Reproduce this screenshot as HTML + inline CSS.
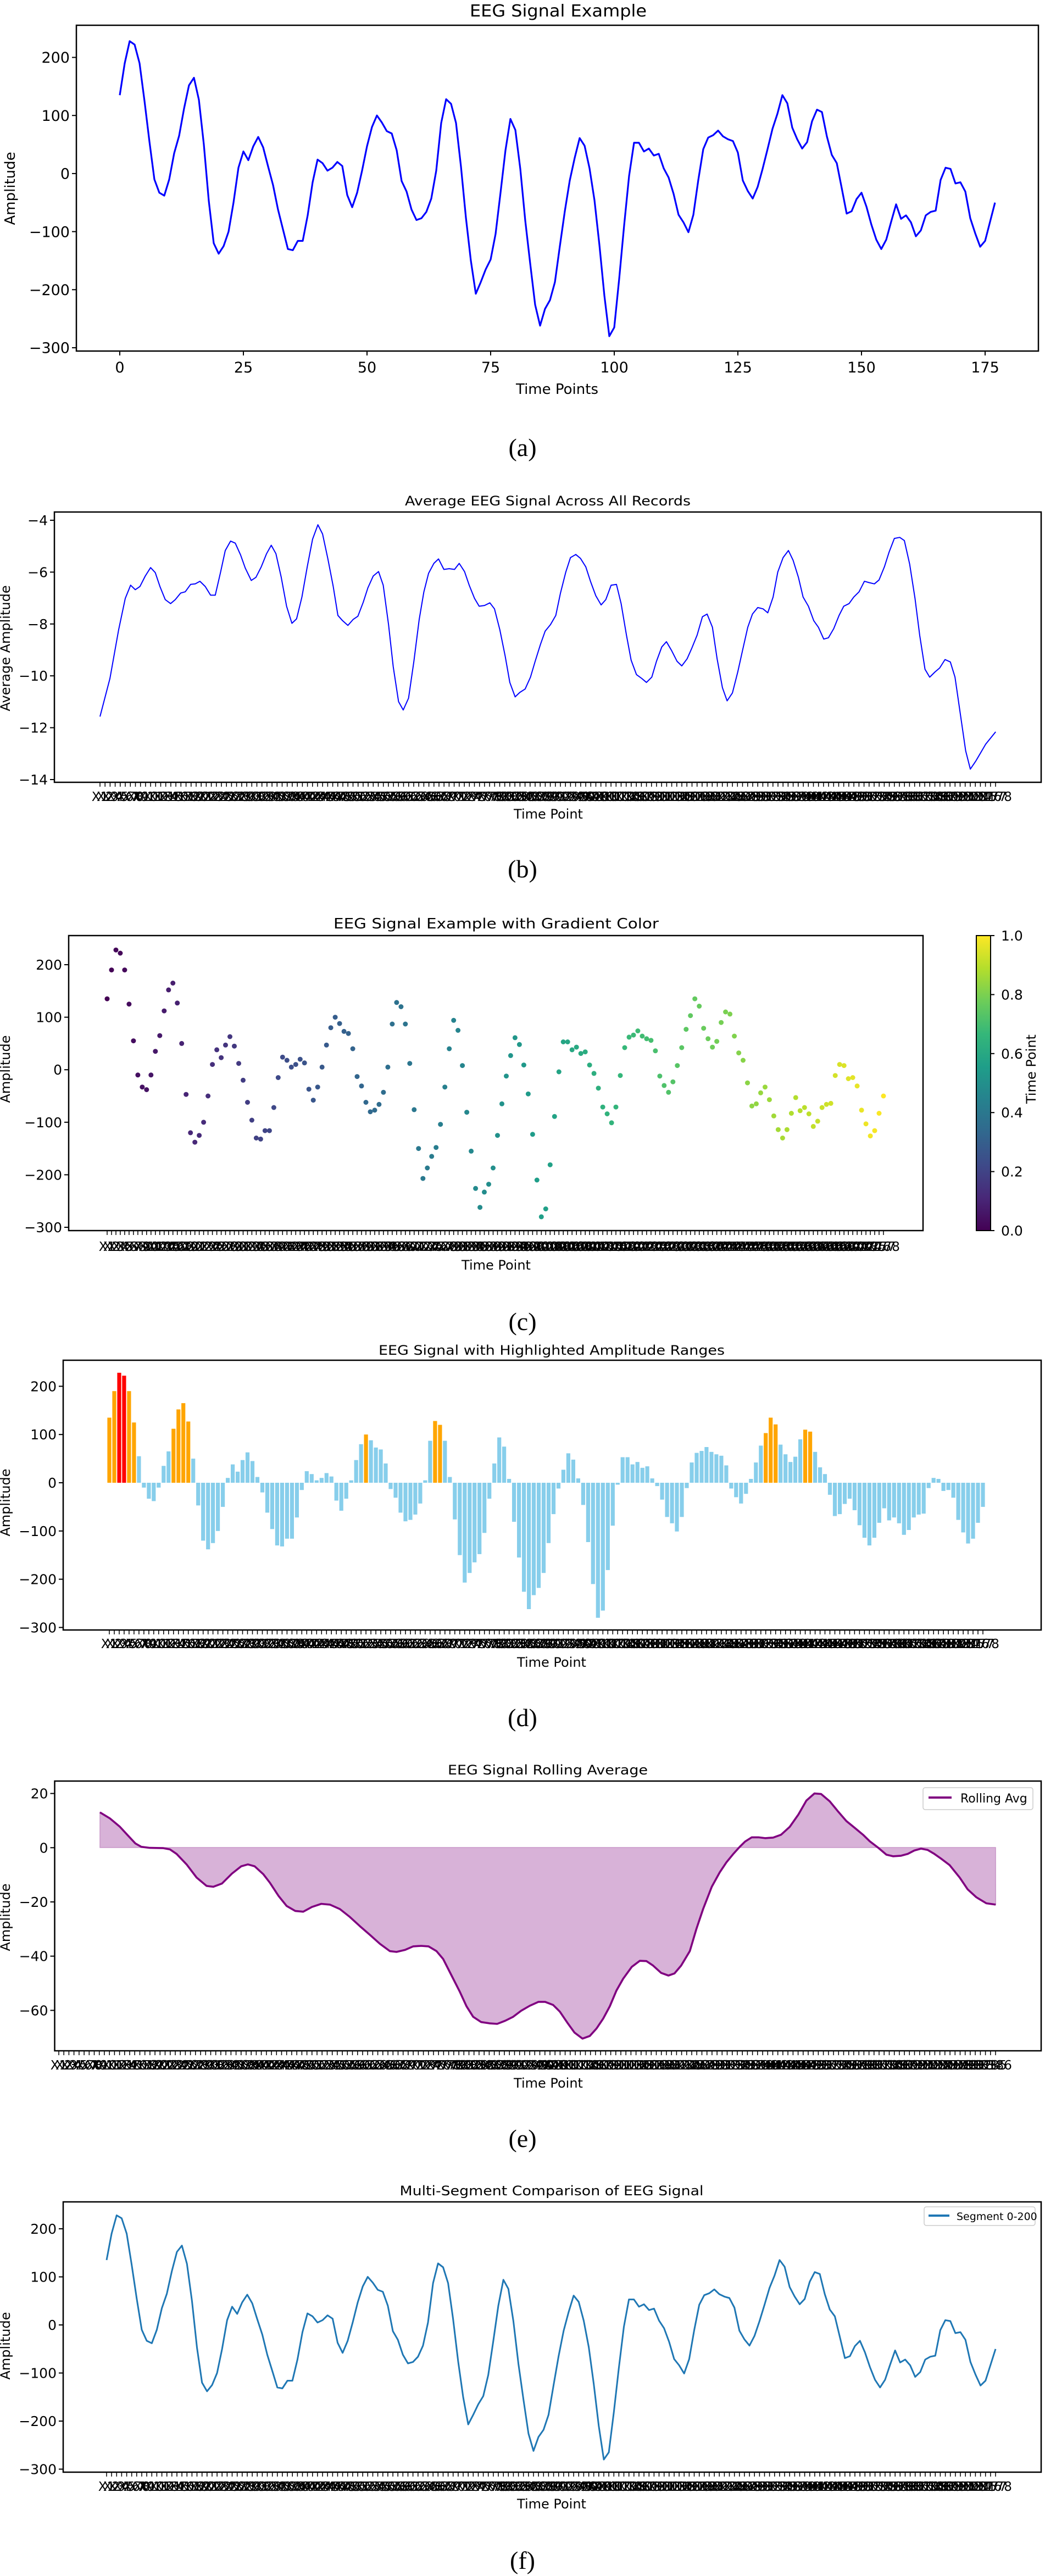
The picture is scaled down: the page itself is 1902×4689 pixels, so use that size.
<!DOCTYPE html>
<html><head><meta charset="utf-8">
<style>
html,body{margin:0;padding:0;background:#fff;}
svg{display:block;}
text{font-family:"DejaVu Sans","Liberation Sans",sans-serif;fill:#000;}
.lab{font-family:"Liberation Serif",serif;font-size:46px;}
</style></head>
<body>
<svg id="s" xmlns="http://www.w3.org/2000/svg" width="1902" height="4689" viewBox="0 0 1902 4689">
<rect width="1902" height="4689" fill="#fff"/>
<text class="lab" x="951" y="830" text-anchor="middle">(a)</text>
<text class="lab" x="951" y="1597" text-anchor="middle">(b)</text>
<text class="lab" x="951" y="2421" text-anchor="middle">(c)</text>
<text class="lab" x="951" y="3142" text-anchor="middle">(d)</text>
<text class="lab" x="951" y="3908" text-anchor="middle">(e)</text>
<text class="lab" x="951" y="4676" text-anchor="middle">(f)</text>
</svg>
<script>
var S=document.getElementById('s');var NS='http://www.w3.org/2000/svg';
function el(t,a,txt){var e=document.createElementNS(NS,t);for(var k in a)e.setAttribute(k,a[k]);if(txt!==undefined)e.textContent=txt;S.appendChild(e);return e;}
var D=[135,190,228,222,190,125,55,-10,-33,-38,-10,35,65,112,152,165,127,50,-47,-120,-138,-125,-100,-50,10,38,23,47,63,45,12,-20,-62,-96,-130,-132,-116,-116,-72,-15,24,18,5,10,20,13,-37,-58,-33,5,47,80,100,88,73,69,40,-13,-31,-62,-80,-77,-66,-43,5,87,128,120,87,12,-76,-150,-207,-187,-165,-148,-104,-33,40,94,75,8,-81,-155,-226,-262,-233,-218,-187,-125,-65,-12,27,61,48,9,-46,-123,-210,-280,-265,-181,-89,-4,53,53,38,43,31,34,9,-7,-35,-71,-84,-101,-71,-11,42,62,66,74,64,59,56,36,-12,-30,-43,-23,8,42,77,103,135,121,79,59,43,54,90,110,106,64,32,18,-25,-69,-65,-44,-33,-57,-88,-114,-130,-114,-83,-53,-78,-72,-84,-108,-98,-72,-66,-64,-11,10,8,-17,-15,-31,-77,-103,-126,-116,-83,-50];
function frame(l,t,r,b){el('rect',{x:l,y:t,width:r-l,height:b-t,fill:'none',stroke:'#000','stroke-width':2.5});}
function title(txt,cx,y,w,fs){el('text',{x:cx,y:y,'text-anchor':'middle','font-size':fs,textLength:w,lengthAdjust:'spacingAndGlyphs'},txt);}
function ytick(l,y,txt,fs){el('line',{x1:l-8,y1:y,x2:l,y2:y,stroke:'#000','stroke-width':2});el('text',{x:l-12,y:y+fs*0.36,'text-anchor':'end','font-size':fs},txt);}
function ylabel(txt,x,cy,fs){el('text',{x:x,y:cy,'text-anchor':'middle','font-size':fs,transform:'rotate(-90 '+x+' '+cy+')'},txt);}
function xlabel(txt,cx,y,fs){el('text',{x:cx,y:y,'text-anchor':'middle','font-size':fs},txt);}
function cat(x0,dx,n,b,ly){var p='';for(var i=0;i<n;i++){var x=x0+i*dx;p+='M'+x.toFixed(1)+' '+b+'v8';el('text',{x:x.toFixed(1),y:ly,'text-anchor':'middle','font-size':23},'X'+(i+1));}el('path',{d:p,stroke:'#000','stroke-width':1.5,fill:'none'});}
function yv(v){return v<0?'\u2212'+(-v):''+v;}
// Panel a
title('EEG Signal Example',1016,30,322,30);
frame(139,46,1890,639);
[200,100,0,-100,-200,-300].forEach(function(v){ytick(139,315.9-v*1.057,yv(v),27);});
[0,25,50,75,100,125,150,175].forEach(function(v){var x=218+v*9;el('line',{x1:x,y1:639,x2:x,y2:647,stroke:'#000','stroke-width':2});el('text',{x:x,y:678,'text-anchor':'middle','font-size':27},''+v);});
ylabel('Amplitude',27,343,26);xlabel('Time Points',1014,717,26);
el('polyline',{points:D.map(function(v,i){return (218+i*9).toFixed(1)+','+(315.9-v*1.057).toFixed(1);}).join(' '),fill:'none',stroke:'#0000ff','stroke-width':3.2,'stroke-linejoin':'round'});
// Panel b
var B=[[150,950],[165,805],[178,620],[188,500],[196,450],[203,467],[210,455],[218,415],[226,383],[233,402],[240,455],[248,505],[256,520],[263,505],[271,480],[278,475],[286,447],[293,445],[300,435],[308,455],[316,488],[323,488],[331,400],[338,318],[346,282],[353,290],[361,335],[368,385],[377,432],[384,420],[392,380],[400,330],[407,298],[414,330],[422,420],[430,530],[438,595],[445,578],[453,495],[461,380],[469,275],[477,220],[484,255],[492,350],[500,455],[507,565],[514,585],[522,603],[530,580],[537,568],[545,515],[552,460],[560,415],[568,398],[575,450],[583,600],[590,760],[598,893],[605,925],[613,880],[621,740],[629,580],[636,475],[643,405],[651,367],[658,350],[666,390],[674,387],[682,390],[689,367],[697,398],[704,450],[712,500],[719,530],[727,527],[735,517],[742,540],[750,620],[758,720],[765,820],[773,875],[780,858],[788,845],[796,800],[803,740],[811,675],[818,625],[826,600],[834,565],[841,480],[849,400],[856,345],[864,333],[871,348],[879,380],[886,435],[894,490],[902,525],[909,505],[917,450],[925,447],[932,520],[940,640],[947,735],[955,790],[963,805],[970,820],[978,800],[985,740],[993,685],[1000,665],[1008,700],[1016,740],[1023,757],[1031,730],[1038,690],[1046,640],[1054,570],[1061,560],[1069,610],[1076,730],[1084,840],[1091,890],[1099,860],[1107,780],[1114,700],[1122,610],[1129,560],[1137,535],[1145,540],[1152,555],[1160,495],[1167,400],[1175,345],[1183,318],[1190,355],[1198,420],[1205,495],[1213,530],[1221,585],[1228,610],[1236,655],[1243,650],[1251,615],[1259,565],[1266,530],[1274,520],[1281,495],[1289,475],[1297,435],[1304,440],[1312,445],[1319,430],[1327,380],[1334,325],[1342,272],[1350,268],[1357,280],[1365,370],[1373,500],[1380,640],[1388,770],[1395,800],[1403,780],[1410,765],[1418,733],[1426,742],[1433,800],[1441,940],[1449,1080],[1456,1150],[1464,1120],[1471,1090],[1479,1055],[1487,1030],[1494,1008]];
title('Average EEG Signal Across All Records',997,920,520,24);
frame(99,932,1895,1424);
[-4,-6,-8,-10,-12,-14].forEach(function(v,j){ytick(99,947+j*94.4,yv(v),25);});
cat(182,1630/177,178,1424,1458);
ylabel('Average Amplitude',18,1180,24);xlabel('Time Point',998,1490,24);
el('polyline',{points:B.map(function(p){return (p[0]*1.213).toFixed(1)+','+(850+p[1]*0.4783).toFixed(1);}).join(' '),fill:'none',stroke:'#0000ff','stroke-width':2,'stroke-linejoin':'round'});
// Panel c
title('EEG Signal Example with Gradient Color',903,1690,592,26);
frame(125,1703,1680,2240);
[200,100,0,-100,-200,-300].forEach(function(v){ytick(125,1947.2-v*0.956,yv(v),25);});
cat(195,1413/177,178,2240,2277);
ylabel('Amplitude',18,1946,24);xlabel('Time Point',903,2311,24);
var VS=[[68,1,84],[72,40,120],[62,74,137],[49,104,142],[38,130,142],[31,158,137],[53,183,121],[109,205,89],[180,222,44],[253,231,37]];
function vir(t){var f=t*9,i=Math.min(8,Math.floor(f)),r=f-i,a=VS[i],b=VS[i+1];return 'rgb('+[0,1,2].map(function(k){return Math.round(a[k]+(b[k]-a[k])*r);}).join(',')+')';}
D.forEach(function(v,i){el('circle',{cx:(195+i*1413/177).toFixed(1),cy:(1947.2-v*0.956).toFixed(1),r:4.5,fill:vir(i/177)});});
var g=el('linearGradient',{id:'vg',x1:0,y1:1,x2:0,y2:0});
for(var k=0;k<=9;k++){var st=document.createElementNS(NS,'stop');st.setAttribute('offset',k/9);st.setAttribute('stop-color','rgb('+VS[k].join(',')+')');g.appendChild(st);}
el('rect',{x:1777,y:1703,width:26,height:537,fill:'url(#vg)',stroke:'#000','stroke-width':2});
[0,0.2,0.4,0.6,0.8,1].forEach(function(v){var y=2240-v*537;el('line',{x1:1803,y1:y,x2:1810,y2:y,stroke:'#000','stroke-width':2});el('text',{x:1822,y:y+9,'font-size':25},v.toFixed(1));});
ylabel('Time Point',1885,1946,24);
// Panel d
title('EEG Signal with Highlighted Amplitude Ranges',1004,2466,630,24);
frame(115,2476,1895,2967);
[200,100,0,-100,-200,-300].forEach(function(v){ytick(115,2699-v*0.878,yv(v),25);});
D.forEach(function(v,i){var x=199+i*8.983,h=v*0.878;var c=v>200?'#ff0000':(v>=100?'#ffa500':'#87ceeb');el('rect',{x:(x-3.6).toFixed(1),y:(v>0?2699-h:2699).toFixed(1),width:7.2,height:Math.max(Math.abs(h),0.5).toFixed(1),fill:c});});
cat(199,8.983,178,2967,3000);
ylabel('Amplitude',18,2735,24);xlabel('Time Point',1004,3034,24);
// Panel e
var E=[[150,207],[165,230],[180,262],[192,295],[203,325],[212,338],[225,342],[245,343],[255,348],[265,365],[280,405],[295,455],[310,487],[320,490],[333,478],[348,440],[362,412],[372,405],[382,412],[395,442],[405,475],[418,525],[430,563],[443,582],[455,585],[468,567],[482,555],[495,558],[510,575],[525,605],[540,640],[555,673],[570,707],[585,735],[595,738],[608,730],[620,717],[632,715],[643,717],[655,735],[665,765],[678,830],[690,890],[700,945],[710,985],[722,1005],[735,1010],[746,1012],[758,1000],[770,985],[782,962],[795,943],[808,928],[818,928],[830,940],[840,965],[852,1010],[862,1045],[874,1068],[885,1058],[895,1030],[905,992],[915,945],[925,885],[935,840],[948,795],[960,772],[970,773],[980,790],[992,818],[1003,828],[1012,820],[1022,790],[1035,735],[1045,650],[1055,575],[1068,490],[1080,435],[1090,397],[1100,366],[1110,338],[1118,318],[1128,302],[1138,302],[1148,305],[1160,303],[1172,292],[1185,262],[1198,215],[1210,162],[1222,135],[1232,137],[1245,165],[1258,205],[1270,240],[1282,265],[1295,292],[1305,317],[1318,342],[1330,368],[1340,374],[1352,372],[1362,365],[1372,352],[1382,345],[1392,350],[1402,365],[1412,383],[1425,408],[1440,455],[1452,500],[1465,530],[1480,553],[1494,558]];
title('EEG Signal Rolling Average',997,3230,364,24);
frame(99.5,3242,1895,3733);
[20,0,-20,-40,-60].forEach(function(v,j){ytick(99.5,3264.6+j*98.7,yv(v),25);});
var ep=E.map(function(p){return (p[0]*1.213).toFixed(1)+','+(3200+p[1]*0.4783).toFixed(1);});
el('polygon',{points:'182,3363 '+ep.join(' ')+' 1812,3363',fill:'rgb(216,178,216)',stroke:'rgb(200,150,200)','stroke-width':1.5});
el('polyline',{points:ep.join(' '),fill:'none',stroke:'#800080','stroke-width':3.6,'stroke-linejoin':'round'});
cat(107,1705/185,186,3733,3767);
ylabel('Amplitude',18,3490,24);xlabel('Time Point',998,3800,24);
el('rect',{x:1680,y:3254,width:200,height:40,rx:4,fill:'#fff',stroke:'#ccc','stroke-width':1.5});
el('line',{x1:1690,y1:3272,x2:1732,y2:3272,stroke:'#800080','stroke-width':4});
el('text',{x:1748,y:3281,'font-size':22},'Rolling Avg');
// Panel f
title('Multi-Segment Comparison of EEG Signal',1004,3996,553,24);
frame(115,4008,1895,4500);
[200,100,0,-100,-200,-300].forEach(function(v){ytick(115,4232-v*0.875,yv(v),25);});
el('polyline',{points:D.map(function(v,i){return (194+i*1618/177).toFixed(1)+','+(4232-v*0.875).toFixed(1);}).join(' '),fill:'none',stroke:'#1f77b4','stroke-width':3,'stroke-linejoin':'round'});
cat(194,1618/177,178,4500,4534);
ylabel('Amplitude',18,4270,24);xlabel('Time Point',1004,4566,24);
el('rect',{x:1682,y:4017,width:202,height:34,rx:4,fill:'#fff',stroke:'#ccc','stroke-width':1.5});
el('line',{x1:1690,y1:4033,x2:1728,y2:4033,stroke:'#1f77b4','stroke-width':4});
el('text',{x:1741,y:4041,'font-size':19},'Segment 0-200');
</script>
</body></html>
